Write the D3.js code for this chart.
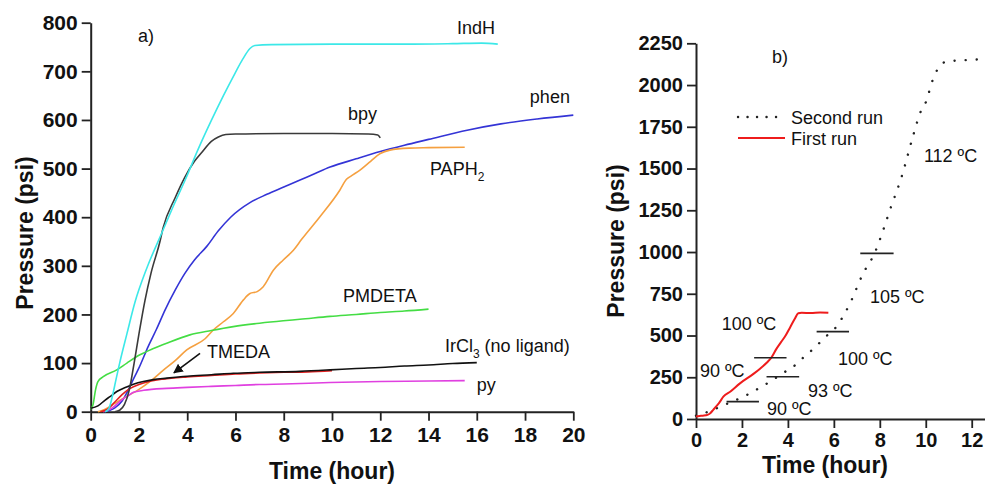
<!DOCTYPE html>
<html>
<head>
<meta charset="utf-8">
<script src="https://cdn.jsdelivr.net/npm/d3@7"></script>
<style>
  body { margin: 0; background: #fff; }
  svg { display: block; font-family: "Liberation Sans", Arial, sans-serif; }
  .tick text { font-weight: bold; fill: #111; }
  .lbl { font-size: 18px; fill: #111; }
  .title { font-size: 23px; font-weight: bold; fill: #111; }
</style>
</head>
<body>
<div id="chart"></div>
<script>
// ---- panel a) series: [time (hour), pressure (psi)] ----
const indH = [[0.6,0],[0.75,6],[0.9,32],[1.0,55],[1.2,100],[1.5,160],[1.84,226],[2.3,292],[2.94,367],
  [3.4,420],[3.91,476],[4.5,545],[5.01,600],[5.5,650],[5.98,696],[6.3,725],[6.6,747],[6.8,753],
  [7.5,755],[10,756],[13,756],[15,757],[16.2,758],[16.87,756]];
const bpy = [[1.0,0],[1.2,3],[1.4,15],[1.6,45],[1.8,100],[2.0,160],[2.25,229],[2.5,285],[2.87,350],
  [3.0,378],[3.5,440],[3.91,483],[4.3,515],[4.6,533],[5.0,556],[5.29,565],[5.6,570],[6.0,571],
  [8,572],[10,572],[11.5,571],[11.9,569],[12.0,563]];
const phen = [[0.55,0],[0.8,3],[1.0,8],[1.3,22],[1.56,45],[1.8,70],[2.0,90],[2.39,135],[2.73,170],
  [3.08,209],[3.5,250],[3.91,285],[4.3,312],[4.81,340],[5.29,372],[5.8,400],[6.6,430],[7.3,447],
  [8.0,462],[8.7,477],[9.3,490],[9.92,503],[11,520],[12,535],[13,548],[14,560],[15.6,579],
  [17,592],[18.5,602],[20,610]];
const paph2 = [[0.3,0],[0.6,5],[1.0,17],[1.5,32],[1.97,45],[2.53,65],[3.0,85],[3.5,105],[3.98,127],
  [4.74,150],[5.08,168],[5.5,185],[5.91,202],[6.33,230],[6.6,243],[6.9,247],[7.15,257],[7.57,291],
  [7.98,312],[8.4,332],[8.75,355],[9.5,401],[10.33,456],[10.6,478],[10.8,485],[11.16,497],
  [11.6,515],[12.0,531],[12.4,538],[13.2,542],[14,543],[15.5,544]];
const pmdeta = [[0,5],[0.1,15],[0.2,45],[0.3,62],[0.52,72],[1.08,86],[1.5,100],[2.04,117],[2.6,130],
  [3.15,141],[4.11,158],[5.0,167],[5.91,175],[7.0,182],[7.98,187],[8.67,190],[9.92,196],[11,200],
  [12,204],[13,207],[14,211]];
const tmeda = [[0.4,0],[0.7,5],[1.0,20],[1.3,35],[1.6,47],[2.0,56],[2.5,63],[3.0,67],[4,71.5],[5,74.5],
  [6,77.5],[7,79.5],[8,81],[9,82],[10,84.5]];
const ircl3 = [[0,7],[0.3,12],[0.6,24],[0.8,31],[1.1,42],[1.49,51],[1.8,57],[2.18,62],[2.6,66],
  [3.15,69],[4,73],[5,76],[5.91,79],[7,81],[8.67,83],[9.92,86],[11,89],[12,91],[13,94],[14,96],
  [15,99],[16,101]];
const py = [[0.5,0],[0.8,5],[1.0,12],[1.3,25],[1.56,33],[1.77,40],[2.2,44],[3.15,48],[4,50],[5,52],
  [6,54],[7,56],[8,57],[9.92,60],[12,62],[14,63],[15.5,64]];

// ---- panel b) series ----
const firstRun = [[0,15],[0.15,18],[0.3,20],[0.5,25],[0.62,35],[0.75,55],[0.9,78],[1.0,95],[1.2,135],
  [1.5,165],[1.9,212],[2.5,270],[2.8,303],[3.1,340],[3.28,368],[3.5,420],[3.7,460],[3.9,500],
  [4.1,550],[4.3,600],[4.45,633],[4.6,636],[5.0,635],[5.4,638],[5.76,636]];
const secondRun = [[0,20],[0.5,42],[1.0,70],[1.5,100],[1.91,124],[2.35,154],[2.86,194],[3.28,229],
  [3.77,274],[4.23,313],[4.71,373],[5.18,429],[5.61,489],[6.05,543],[6.63,672],[7.28,873],
  [7.79,998],[8.15,1132],[8.44,1252],[8.95,1451],[9.46,1701],[9.75,1831],[10.04,1910],
  [10.25,2010],[10.54,2100],[10.75,2132],[10.91,2142],[11.34,2146],[12.6,2155]];
// temperature step markers: [start time, end time, pressure]
const tempMarks = [[1.33,2.74,104],[2.53,3.94,367],[3.07,4.49,253],[5.25,6.66,523],[7.15,8.6,992]];
const tempText = ["90 ºC","93 ºC","90 ºC","100 ºC","100 ºC","105 ºC","112 ºC"];

const xTicksA = d3.range(0, 21, 2), yTicksA = d3.range(0, 801, 100);
const xTicksB = d3.range(0, 13, 2), yTicksB = d3.range(0, 2251, 250);

const width = 985, height = 484;
const svg = d3.select("#chart").append("svg")
  .attr("width", width).attr("height", height);

// SCALES =======================================
const xA = d3.scaleLinear().domain([0, 20]).range([90.7, 573.3]);
const yA = d3.scaleLinear().domain([0, 800]).range([411.7, 22.7]);
const xB = d3.scaleLinear().domain([0, 12.6]).range([696, 985.5]);
const yB = d3.scaleLinear().domain([0, 2250]).range([419, 43.3]);

function drawAxes(x, y, xTicks, yTicks, xMinor, yMinor, fs, xPad) {
  const gx = svg.append("g").attr("transform", `translate(0,${y.range()[0]})`);
  gx.call(d3.axisBottom(x).tickValues(xMinor).tickSize(5).tickFormat(""));
  gx.call(d3.axisBottom(x).tickValues(xTicks).tickSize(9).tickSizeOuter(0)
    .tickPadding(xPad).tickFormat(d3.format("d")));
  const gy = svg.append("g").attr("transform", `translate(${x.range()[0]},0)`);
  gy.call(d3.axisLeft(y).tickValues(yMinor).tickSize(5).tickFormat(""));
  gy.call(d3.axisLeft(y).tickValues(yTicks).tickSize(9).tickSizeOuter(0)
    .tickPadding(4).tickFormat(d3.format("d")));
  [gx, gy].forEach(g => {
    g.selectAll("path.domain").attr("stroke", "#222").attr("stroke-width", 2);
    g.selectAll(".tick line").attr("stroke", "#222").attr("stroke-width", 1.8);
    g.selectAll(".tick text").style("font-size", fs + "px");
  });
}

drawAxes(xA, yA, xTicksA, yTicksA, d3.range(1, 20, 2), d3.range(50, 800, 100), 21, 6);
drawAxes(xB, yB, xTicksB, yTicksB, d3.range(1, 13, 2), d3.range(125, 2250, 250), 20, 5);

// LINES =======================================
const lineA = d3.line().curve(d3.curveMonotoneX).x(d => xA(d[0])).y(d => yA(d[1]));
const lineB = d3.line().curve(d3.curveMonotoneX).x(d => xB(d[0])).y(d => yB(d[1]));

const seriesA = [
  [phen, "#3434d6"], [paph2, "#f5a040"], [pmdeta, "#44dd44"], [py, "#e040e0"],
  [tmeda, "#e02020"], [ircl3, "#111111"], [bpy, "#3a3a3a"], [indH, "#3ce8e8"]
];
svg.selectAll("path.a-line").data(seriesA).join("path")
  .attr("class", "a-line")
  .attr("d", d => lineA(d[0]))
  .attr("fill", "none")
  .attr("stroke", d => d[1])
  .attr("stroke-width", 1.6);

// text labels in panel a) (data-space anchors)
const lblA = [
  ["a)", 1.96, 760], ["IndH", 15.18, 777], ["bpy", 10.66, 600], ["phen", 18.2, 635],
  ["PMDETA", 10.46, 226], ["py", 16.0, 42], ["TMEDA", 4.82, 110]
];
svg.selectAll("text.a-lbl").data(lblA).join("text")
  .attr("class", "lbl a-lbl")
  .attr("x", d => xA(d[1])).attr("y", d => yA(d[2]))
  .text(d => d[0]);

const paphT = svg.append("text").attr("class", "lbl")
  .attr("x", xA(14.06)).attr("y", yA(487));
paphT.append("tspan").text("PAPH");
paphT.append("tspan").attr("dy", 6).style("font-size", "12px").text("2");

const irT = svg.append("text").attr("class", "lbl")
  .attr("x", xA(14.68)).attr("y", yA(123));
irT.append("tspan").text("IrCl");
irT.append("tspan").attr("dy", 6).style("font-size", "12px").text("3");
irT.append("tspan").attr("dy", -6).text(" (no ligand)");

// TMEDA arrow
svg.append("defs").append("marker")
  .attr("id", "arrow").attr("viewBox", "0 0 10 10")
  .attr("refX", 9).attr("refY", 5)
  .attr("markerWidth", 6).attr("markerHeight", 6)
  .attr("orient", "auto")
  .append("path").attr("d", "M0,0L10,5L0,10z").attr("fill", "#111");
svg.append("line")
  .attr("x1", xA(4.53)).attr("y1", yA(120))
  .attr("x2", xA(3.45)).attr("y2", yA(80))
  .attr("stroke", "#111").attr("stroke-width", 1.6)
  .attr("marker-end", "url(#arrow)");

// panel b) ------------------------------------
svg.append("path")
  .attr("d", lineB(secondRun))
  .attr("fill", "none").attr("stroke", "#222")
  .attr("stroke-width", 2.4).attr("stroke-linecap", "round")
  .attr("stroke-dasharray", "0.1,11");

svg.append("path")
  .attr("d", lineB(firstRun))
  .attr("fill", "none").attr("stroke", "#ee1c1c")
  .attr("stroke-width", 2);

svg.selectAll("line.temp").data(tempMarks).join("line")
  .attr("class", "temp")
  .attr("x1", d => xB(d[0])).attr("x2", d => xB(d[1]))
  .attr("y1", d => yB(d[2])).attr("y2", d => yB(d[2]))
  .attr("stroke", "#222").attr("stroke-width", 1.6);

const tempPos = [[3.09, 24], [4.87, 134], [0.17, 253], [1.12, 533], [6.18, 323], [7.57, 693], [9.92, 1541]];
svg.selectAll("text.temp-lbl").data(tempText).join("text")
  .attr("class", "lbl temp-lbl")
  .attr("x", (d, i) => xB(tempPos[i][0])).attr("y", (d, i) => yB(tempPos[i][1]))
  .text(d => d);

svg.append("text").attr("class", "lbl")
  .attr("x", xB(3.31)).attr("y", yB(2132)).text("b)");

// legend
const legend = svg.append("g").attr("transform", "translate(738,117)");
legend.append("line").attr("x1", 0).attr("x2", 47).attr("y1", 0).attr("y2", 0)
  .attr("stroke", "#222").attr("stroke-width", 2.4).attr("stroke-linecap", "round")
  .attr("stroke-dasharray", "0.1,9.4");
legend.append("text").attr("class", "lbl").attr("x", 53).attr("y", 6.5).text("Second run");
legend.append("line").attr("x1", 0).attr("x2", 47).attr("y1", 21).attr("y2", 21)
  .attr("stroke", "#ee1c1c").attr("stroke-width", 2);
legend.append("text").attr("class", "lbl").attr("x", 53).attr("y", 27.5).text("First run");

// axis titles
svg.append("text").attr("class", "title").attr("text-anchor", "middle")
  .attr("x", 332).attr("y", 479).text("Time (hour)");
svg.append("text").attr("class", "title").attr("text-anchor", "middle")
  .attr("x", 825).attr("y", 473).text("Time (hour)");
svg.append("text").attr("class", "title").attr("text-anchor", "middle")
  .attr("transform", "translate(33,233) rotate(-90)").text("Pressure (psi)");
svg.append("text").attr("class", "title").attr("text-anchor", "middle")
  .attr("transform", "translate(624,241) rotate(-90)").text("Pressure (psi)");
</script>
</body>
</html>
